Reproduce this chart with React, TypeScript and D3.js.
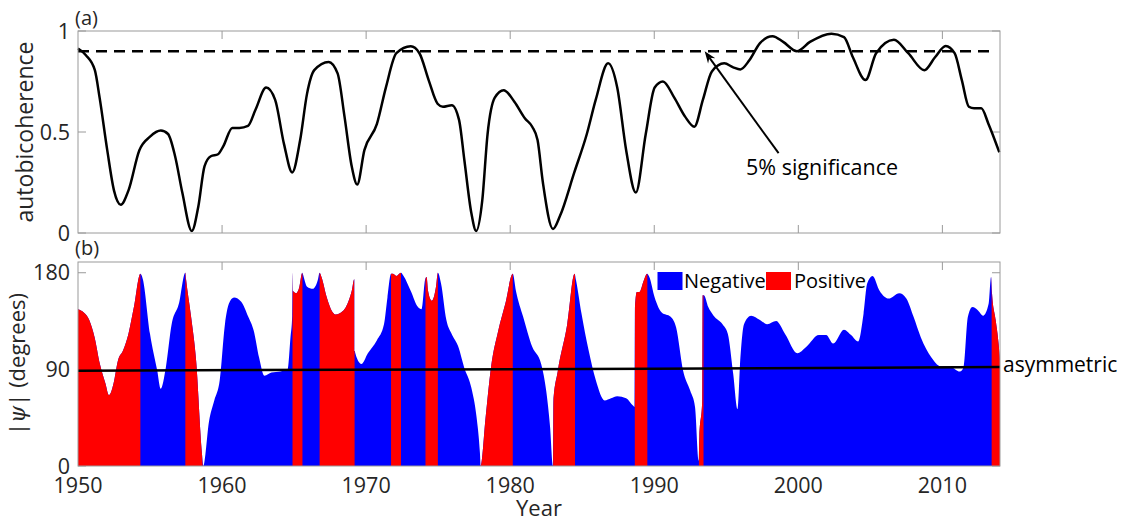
import React from "react";
import * as d3 from "d3";

// ---------- Panel (a): autobicoherence ----------
const aYears = [
  1950.0, 1950.55, 1951.17, 1951.5, 1952.03, 1952.5, 1952.97, 1953.5, 1954.26, 1955.0,
  1955.75, 1956.25, 1956.74, 1957.24, 1957.9, 1958.35, 1958.78, 1959.22, 1959.72, 1960.09,
  1960.71, 1961.2, 1961.8, 1962.32, 1963.06, 1963.68, 1964.3, 1964.87, 1965.42, 1965.9,
  1966.4, 1967.4, 1968.02, 1968.5, 1969.0, 1969.38, 1969.88, 1970.75, 1971.37, 1972.1,
  1973.1, 1973.7, 1974.34, 1974.96, 1975.33, 1975.95, 1976.45, 1976.82, 1977.3, 1977.64,
  1978.06, 1978.43, 1978.93, 1979.55, 1980.29, 1981.03, 1981.53, 1981.9, 1982.27, 1982.97,
  1983.46, 1984.45, 1985.32, 1985.94, 1986.8, 1987.43, 1988.05, 1988.72, 1989.41, 1990.03,
  1990.6, 1991.39, 1992.14, 1992.78, 1993.38, 1994.0, 1994.86, 1995.48, 1995.98, 1996.6,
  1997.34, 1998.21, 1998.95, 1999.9, 2000.81, 2002.3, 2003.17, 2003.79, 2004.66, 2005.4,
  2006.64, 2007.63, 2008.75, 2009.49, 2010.23, 2010.85, 2011.35, 2011.84, 2012.2, 2012.7,
  2013.2, 2013.95,
];
const aValues = [
  0.913, 0.88, 0.806, 0.67, 0.41, 0.21, 0.14, 0.21, 0.41, 0.477,
  0.507, 0.49, 0.38, 0.2, 0.01, 0.13, 0.33, 0.38, 0.39, 0.43,
  0.52, 0.52, 0.53, 0.61, 0.72, 0.66, 0.44, 0.3, 0.46, 0.69,
  0.806, 0.847, 0.79, 0.576, 0.33, 0.24, 0.41, 0.54, 0.72, 0.89,
  0.924, 0.89, 0.757, 0.64, 0.625, 0.633, 0.56, 0.36, 0.1, 0.01,
  0.16, 0.49, 0.67, 0.707, 0.65, 0.567, 0.526, 0.46, 0.25, 0.02,
  0.085, 0.3, 0.49, 0.66, 0.84, 0.72, 0.41, 0.2, 0.49, 0.72,
  0.75, 0.67, 0.576, 0.526, 0.66, 0.8, 0.84, 0.82, 0.81, 0.855,
  0.94, 0.974, 0.946, 0.9, 0.946, 0.987, 0.97, 0.87, 0.757, 0.89,
  0.957, 0.89, 0.806, 0.87, 0.926, 0.89, 0.757, 0.625, 0.617, 0.617,
  0.54, 0.4,
];
const significanceLevel = 0.9;

// ---------- Panel (b): |psi| in degrees ----------
const psiYears = [
  1950.0, 1950.4, 1950.78, 1951.15, 1951.52, 1951.9, 1952.15, 1952.47, 1952.77, 1953.14, 1953.5, 1953.88, 1954.33,
  1954.5, 1955.0, 1955.5, 1955.74, 1956.1, 1956.5, 1957.0, 1957.45,
  1957.5, 1957.85, 1958.2, 1958.6, 1958.7,
  1959.1, 1959.46, 1959.84, 1960.2, 1960.47, 1960.83, 1961.33, 1961.82, 1962.2, 1962.57, 1962.94, 1963.43, 1964.05, 1964.55, 1964.75, 1964.87, 1964.9,
  1964.93, 1965.15, 1965.35, 1965.57,
  1965.6, 1965.9, 1966.3, 1966.64, 1966.77,
  1966.9, 1967.27, 1967.64, 1967.9, 1968.14, 1968.63, 1969.0, 1969.18, 1969.21,
  1969.67, 1970.12, 1970.74, 1971.24, 1971.48, 1971.73,
  1971.85, 1972.1, 1972.42,
  1972.6, 1973.1, 1973.6, 1973.84, 1974.1,
  1974.2, 1974.3, 1974.56, 1974.85, 1974.98,
  1975.2, 1975.57, 1975.94, 1976.4, 1976.8, 1977.3, 1977.66, 1977.9, 1977.95,
  1978.3, 1978.67, 1979.17, 1979.66, 1980.18,
  1980.4, 1980.9, 1981.53, 1982.15, 1982.5, 1982.77, 1982.97,
  1983.0, 1983.3, 1983.96, 1984.47,
  1984.57, 1984.95, 1985.44, 1985.94, 1986.56, 1987.0, 1987.43, 1988.05, 1988.54, 1988.63, 1988.66,
  1988.79, 1988.96, 1989.28, 1989.5,
  1989.66, 1990.03, 1990.52, 1991.14, 1991.52, 1992.0, 1992.5, 1992.83, 1993.08,
  1993.13, 1993.33, 1993.36,
  1993.45, 1993.75, 1994.12, 1994.74, 1995.11, 1995.48, 1995.78, 1995.98, 1996.23, 1996.72, 1997.34, 1997.84, 1998.46, 1999.08, 1999.94,
  2000.56, 2001.43, 2001.93, 2002.42, 2003.17, 2003.66, 2004.16, 2004.53, 2004.78, 2005.15, 2005.65, 2006.27, 2007.01, 2007.5, 2008.0,
  2008.5, 2009.24, 2009.86, 2010.48, 2011.22, 2011.47, 2011.77, 2012.09, 2012.46, 2012.83, 2013.21, 2013.38,
  2013.45, 2013.7, 2013.9, 2014.0,
];
const psiValues = [
  146, 143, 136, 120, 95, 77, 66, 77, 98, 108, 123, 148, 179,
  174, 123, 89, 72, 92, 132, 151, 180,
  174, 139, 98, 12, 0,
  42, 61, 80, 132, 151, 157, 153, 139, 126, 101, 84, 87, 88, 90, 120, 140, 180,
  163, 161, 166, 180,
  179, 167, 165, 173, 180,
  176, 157, 144, 141, 142, 149, 163, 174, 107,
  95, 105, 117, 132, 157, 179,
  179, 177, 180,
  177, 163, 148, 146, 174,
  176, 163, 154, 167, 180,
  170, 136, 123, 111, 92, 73, 46, 12, 0,
  46, 92, 126, 151, 179,
  163, 139, 111, 95, 70, 36, 0,
  60, 88, 132, 179,
  173, 142, 108, 80, 61, 63, 65, 63, 56, 55, 148,
  162, 162, 173, 179,
  176, 157, 143, 139, 129, 89, 70, 55, 5,
  27, 61, 159,
  159, 148, 140, 132, 123, 86, 53, 101, 132, 140, 136, 132, 135, 123, 105,
  111, 122, 122, 114, 127, 122, 116, 142, 170, 177, 163, 156, 161, 156, 139,
  120, 101, 93, 93, 88, 92, 139, 148, 145, 140, 151, 176,
  160, 136, 114, 98,
];
// intervals where the phase is positive (red)
const positiveStart = [1950, 1957.45, 1964.89, 1966.77, 1971.73, 1974.12, 1977.95, 1982.98, 1988.65, 1993.1, 2013.42];
const positiveEnd = [1954.33, 1958.65, 1965.58, 1969.2, 1972.42, 1974.98, 1980.18, 1984.5, 1989.52, 1993.42, 2014];

const asymYears = [1950, 1962, 1975, 1990, 2005, 2014];
const asymValues = [88.8, 89.3, 89.8, 90.6, 91.5, 92.2];

const xTicks = [1950, 1960, 1970, 1980, 1990, 2000, 2010];
const aTicks = [0, 0.5, 1];
const aTickLabels = ["0", "0.5", "1"];
const bTicks = [0, 90, 180];
const bTickLabels = ["0", "90", "180"];

const FONT = "'Open Sans', 'Liberation Sans', Arial, sans-serif";
const TXT = "#262626";
const AXC = "#9a9a9a";

export default function App() {
  const W = 1121, H = 527;
  const L = 78, R = 1000;
  const aTop = 31, aBot = 233, bTop = 262, bBot = 466;
  const tick = 8;

  const x = d3.scaleLinear().domain([1950, 2014]).range([L, R]);
  const ya = d3.scaleLinear().domain([0, 1]).range([aBot, aTop]);
  const yb = d3.scaleLinear().domain([0, 190]).range([bBot, bTop]);

  const aData = aYears.map((t, i) => [t, aValues[i]] as [number, number]);
  const aLine = d3.line<[number, number]>().x(d => x(d[0])).y(d => ya(d[1])).curve(d3.curveMonotoneX)(aData) || "";

  const bData = psiYears.map((t, i) => [t, psiValues[i]] as [number, number]);
  const bArea = d3.area<[number, number]>().x(d => x(d[0])).y0(yb(0)).y1(d => yb(d[1])).curve(d3.curveMonotoneX)(bData) || "";

  const asymLine = d3.line<number>().x((d, i) => x(asymYears[i])).y(d => yb(d))(asymValues) || "";

  // annotation arrow (data coordinates)
  const head: [number, number] = [x(1993.5), ya(significanceLevel)];
  const tail: [number, number] = [x(1998.63), ya(0.395)];
  const dx = head[0] - tail[0], dy = head[1] - tail[1];
  const len = Math.hypot(dx, dy);
  const ux = dx / len, uy = dy / len;
  const nx = -uy, ny = ux;
  const hl = 12, hw = 4.5, notch = 8;
  const arrowPts = [
    [head[0], head[1]],
    [head[0] - ux * hl + nx * hw, head[1] - uy * hl + ny * hw],
    [head[0] - ux * notch, head[1] - uy * notch],
    [head[0] - ux * hl - nx * hw, head[1] - uy * hl - ny * hw],
  ].map(p => p.join(",")).join(" ");

  const box = (top: number, bot: number) => (
    <rect x={L} y={top} width={R - L} height={bot - top} fill="none" stroke={AXC} strokeWidth={1} />
  );

  const xTickMarks = (top: number, bot: number) =>
    xTicks.slice(1).map(t => (
      <g key={t}>
        <line x1={x(t)} x2={x(t)} y1={bot} y2={bot - tick} stroke={AXC} />
        <line x1={x(t)} x2={x(t)} y1={top} y2={top + tick} stroke={AXC} />
      </g>
    ));

  return (
    <svg width={W} height={H} style={{ position: "absolute", left: 0, top: 0, background: "#fff" }} fontFamily={FONT}>
      <rect x={0} y={0} width={W} height={H} fill="#fff" />
      <defs>
        <clipPath id="posClip">
          {positiveStart.map((s, i) => (
            <rect key={i} x={x(s)} y={bTop - 5} width={x(positiveEnd[i]) - x(s)} height={bBot - bTop + 10} />
          ))}
        </clipPath>
      </defs>

      {/* ---------- Panel (a) ---------- */}
      {xTickMarks(aTop, aBot)}
      {aTicks.map(v => (
        <g key={v}>
          <line x1={L} x2={L + tick} y1={ya(v)} y2={ya(v)} stroke={AXC} />
          <line x1={R} x2={R - tick} y1={ya(v)} y2={ya(v)} stroke={AXC} />
        </g>
      ))}
      <line x1={x(1950)} x2={x(2013.5)} y1={ya(significanceLevel)} y2={ya(significanceLevel)}
        stroke="#000" strokeWidth={2.5} strokeDasharray="11,7" />
      <path d={aLine} fill="none" stroke="#000" strokeWidth={2.5} />
      {box(aTop, aBot)}
      {aTicks.map((v, i) => (
        <text key={v} x={L - 8} y={ya(v)} dy="0.35em" textAnchor="end" fontSize={21.5} fill={TXT}>{aTickLabels[i]}</text>
      ))}
      <text x={75} y={25} fontSize={20} fill={TXT}>(a)</text>
      <text transform={`translate(33,${(aTop + aBot) / 2}) rotate(-90)`} textAnchor="middle" fontSize={23} fill={TXT}>autobicoherence</text>
      <line x1={tail[0]} y1={tail[1]} x2={head[0] - ux * notch} y2={head[1] - uy * notch} stroke="#000" strokeWidth={2} />
      <polygon points={arrowPts} fill="#000" />
      <text x={x(1996.37)} y={ya(0.287)} fontSize={21.5} fill="#000">5% significance</text>

      {/* ---------- Panel (b) ---------- */}
      {xTickMarks(bTop, bBot)}
      {bTicks.map(v => (
        <g key={v}>
          <line x1={L} x2={L + tick} y1={yb(v)} y2={yb(v)} stroke={AXC} />
          <line x1={R} x2={R - tick} y1={yb(v)} y2={yb(v)} stroke={AXC} />
        </g>
      ))}
      <path d={bArea} fill="#0000ff" />
      <path d={bArea} fill="#ff0000" clipPath="url(#posClip)" />
      <path d={asymLine} fill="none" stroke="#000" strokeWidth={2.5} />
      {box(bTop, bBot)}
      {bTicks.map((v, i) => (
        <text key={v} x={L - 8} y={yb(v)} dy="0.35em" textAnchor="end" fontSize={21.5} fill={TXT}>{bTickLabels[i]}</text>
      ))}
      {xTicks.map(t => (
        <text key={t} x={x(t)} y={bBot + 27} textAnchor="middle" fontSize={21.5} fill={TXT}>{t}</text>
      ))}
      <text x={(L + R) / 2} y={516} textAnchor="middle" fontSize={22} fill={TXT}>Year</text>
      <text x={75} y={255} fontSize={20} fill={TXT}>(b)</text>
      <text transform={`translate(25,${(bTop + bBot) / 2}) rotate(-90)`} textAnchor="middle" fontSize={22} fill={TXT}>
        |<tspan fontStyle="italic" fontFamily="'DejaVu Serif', serif">ψ</tspan>| (degrees)
      </text>
      <text x={x(2014) + 3} y={372} fontSize={21} fill="#000">asymmetric</text>

      {/* legend */}
      <rect x={657.5} y={272} width={25} height={18} fill="#0000ff" />
      <text x={684} y={288} fontSize={20} fill="#000">Negative</text>
      <rect x={766} y={272} width={25} height={18} fill="#ff0000" />
      <text x={794} y={288} fontSize={20} fill="#000">Positive</text>
    </svg>
  );
}
